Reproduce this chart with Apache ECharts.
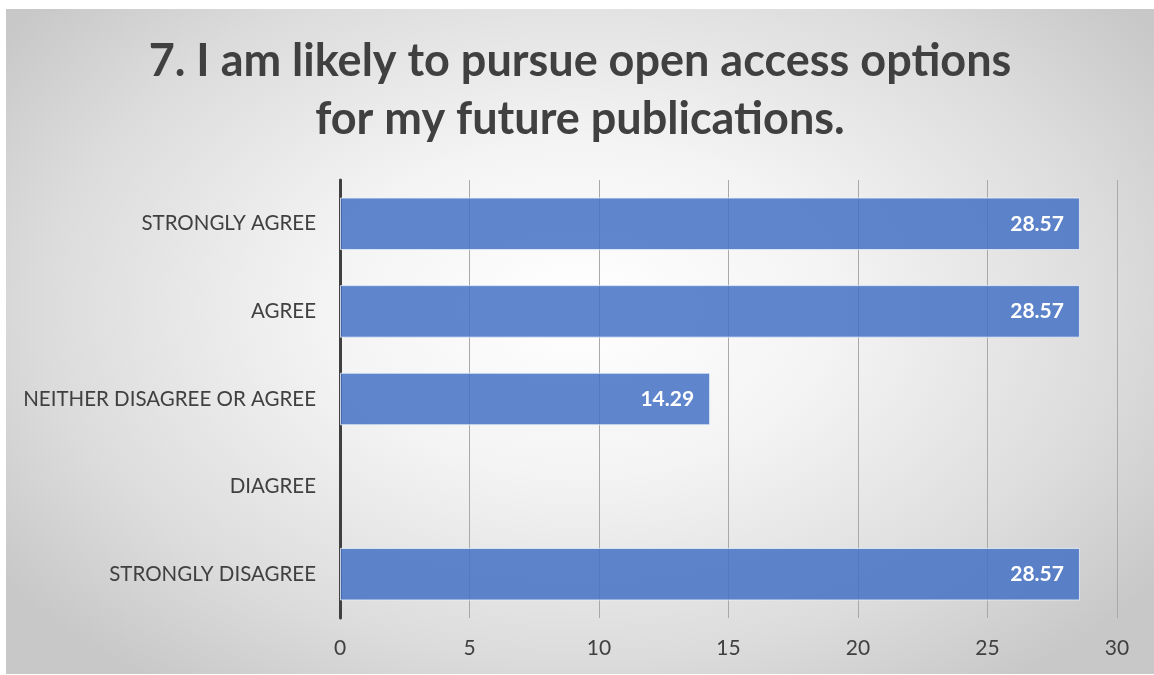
<!DOCTYPE html>
<html>
<head>
<meta charset="utf-8">
<script src="https://cdn.jsdelivr.net/npm/echarts@6/dist/echarts.min.js"></script>
<style>
  html, body { margin: 0; padding: 0; background: #ffffff; width: 1154px; height: 675px; overflow: hidden; }
  #chart {
    position: absolute; left: 6px; top: 9px; width: 1148px; height: 665px;
    background: radial-gradient(ellipse 62% 70% at 50% 45%, #ffffff 0%, #f4f4f4 35%, #dcdcdc 75%, #c8c8c8 100%);
  }
</style>
</head>
<body>
<div id="chart"></div>
<script>
// Survey answers, top to bottom
const categories = ['STRONGLY AGREE', 'AGREE', 'NEITHER DISAGREE OR AGREE', 'DIAGREE', 'STRONGLY DISAGREE'];
// Percent of respondents for each answer
const percentages = [28.57, 28.57, 14.29, 0, 28.57];
const titleLines = ['7. I am likely to pursue open access options', 'for my future publications.'];

const FONT = 'Lato, "Open Sans", sans-serif';
const chart = echarts.init(document.getElementById('chart'), null, { renderer: 'canvas' });

const titleStyle = { fontFamily: FONT, fontSize: 45, fontWeight: 'bold', color: '#404040' };

chart.setOption({
  backgroundColor: 'transparent',
  animation: false,
  title: titleLines.map((line, i) => ({
    text: line,
    left: 'center',
    top: 25 + i * 58,
    textStyle: titleStyle
  })),
  grid: { left: 334, right: 37, top: 171, bottom: 56, containLabel: false },
  xAxis: {
    type: 'value',
    min: 0, max: 30, interval: 5,
    axisLine: { show: false },
    axisTick: { show: false },
    splitLine: { show: true, lineStyle: { color: '#a9a9a9', width: 1 } },
    axisLabel: { margin: 20, fontFamily: FONT, fontSize: 21, color: '#404040' }
  },
  yAxis: {
    type: 'category',
    inverse: true,
    data: categories,
    axisLine: { show: true, lineStyle: { color: '#404040', width: 3 } },
    axisTick: { show: false },
    axisLabel: { margin: 24, fontFamily: FONT, fontSize: 20.5, color: '#404040' }
  },
  series: [{
    type: 'bar',
    data: percentages.map(v => (v ? v : { value: v, itemStyle: { borderWidth: 0 } })),
    barCategoryGap: '40%',
    itemStyle: { color: 'rgba(68,114,196,0.85)', borderColor: 'rgba(235,240,250,0.8)', borderWidth: 1 },
    label: {
      show: true,
      position: 'insideRight',
      distance: 16,
      fontFamily: FONT, fontSize: 21, fontWeight: 'bold', color: '#ffffff',
      formatter: p => (p.value ? p.value.toFixed(2) : '')
    }
  }]
});
</script>
</body>
</html>
